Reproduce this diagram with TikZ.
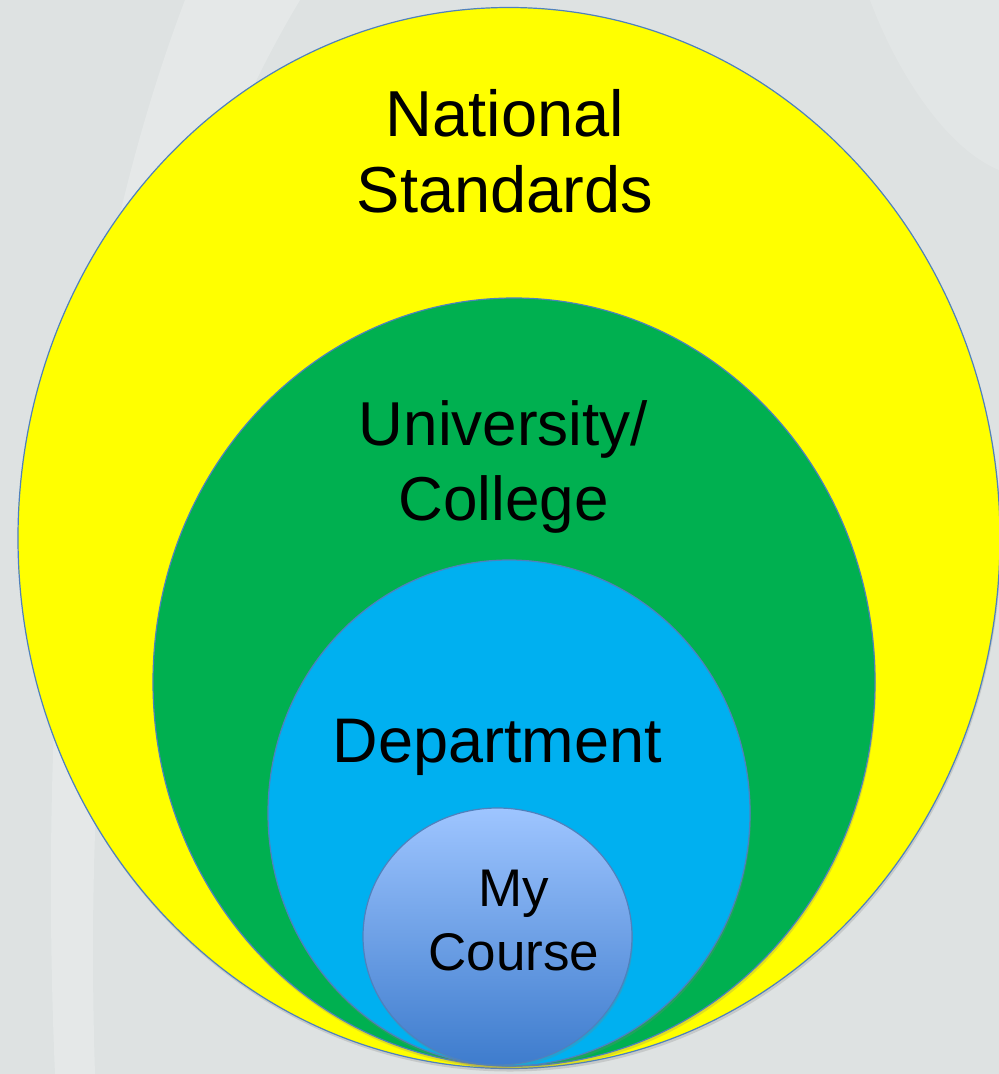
\documentclass[tikz,border=0pt]{standalone}
\usepackage{fontspec}
\setmainfont{Liberation Sans}
\usetikzlibrary{shapes.geometric,shadows}
\definecolor{bggrey}{RGB}{222,226,226}
\definecolor{rimblue}{RGB}{79,129,189}
\definecolor{natyellow}{RGB}{255,255,0}
\definecolor{unigreen}{RGB}{0,176,80}
\definecolor{deptblue}{RGB}{0,176,240}
\definecolor{coursetop}{RGB}{158,197,255}
\definecolor{coursebot}{RGB}{62,124,205}

\begin{document}
\begin{tikzpicture}[x=1pt,y=-1pt,
  ring/.style={ellipse,draw=rimblue,line width=1.2pt,inner sep=0pt,
    drop shadow={opacity=0.25,shadow xshift=1pt,shadow yshift=-3pt}},
  lbl/.style={align=center,inner sep=0pt,text=black}]
  \useasboundingbox (0,0) rectangle (999,1074);
  \fill[bggrey] (0,0) rectangle (999,1074);
  % faint swirl in the background
  \fill[white,opacity=0.22] (185,0) .. controls (90,250) and (35,600) .. (55,1074) -- (95,1074) .. controls (80,600) and (150,250) .. (300,0) -- cycle;
  \fill[white,opacity=0.15] (870,0) .. controls (900,80) and (950,150) .. (999,170) -- (999,0) -- cycle;
  % nested ellipses
  \node[ring,fill=natyellow,minimum width=982pt,minimum height=1061pt] (nat) at (509,538) {};
  \node[ring,fill=unigreen,minimum width=722pt,minimum height=768pt] (uni) at (514,682) {};
  \node[ring,fill=deptblue,minimum width=482pt,minimum height=506pt] (dept) at (509,813) {};
  \node[ring,top color=coursetop,bottom color=coursebot,minimum width=269pt,minimum height=257pt] (course) at (497.5,936.5) {};
  % labels
  \node[lbl,font=\fontsize{65}{76}\selectfont] (natlbl) at (505,151.5) {National\\Standards};
  \node[lbl,font=\fontsize{62}{75}\selectfont] (unilbl) at (503.5,467) {University/\\College};
  \node[lbl,font=\fontsize{63}{74}\selectfont,anchor=base] (deptlbl) at (497.5,762) {Department};
  \node[lbl,font=\fontsize{53}{64}\selectfont] (courselbl) at (514,921) {My\\Course};
\end{tikzpicture}
\end{document}
